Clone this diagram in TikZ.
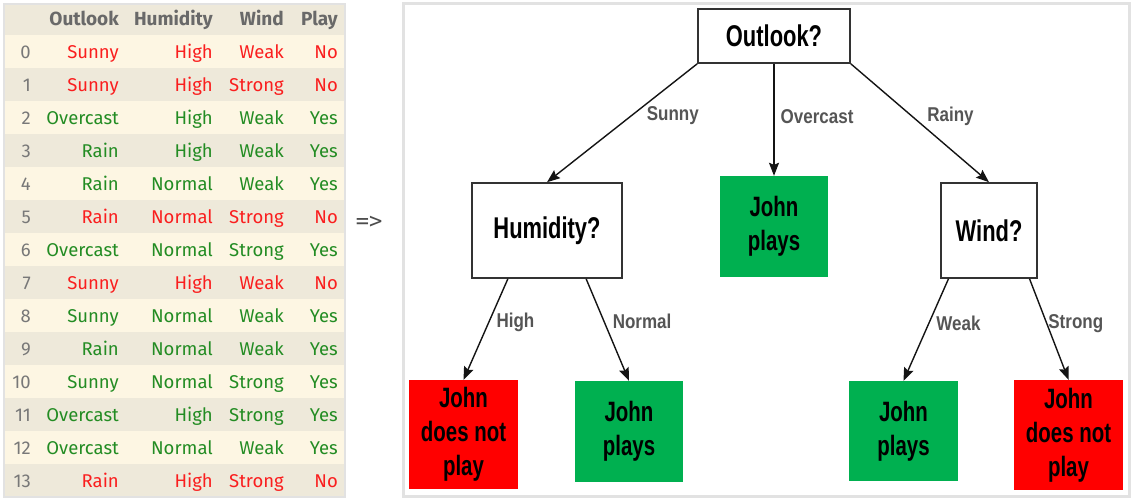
\documentclass[tikz,border=0pt]{standalone}
\usepackage{fontspec}
\usepackage{tikz}
\usetikzlibrary{positioning,arrows.meta}
\newfontfamily\tabfont{Fira Sans}
\newfontfamily\treefont[FakeStretch=0.73]{Liberation Sans}
\newfontfamily\lblfont[FakeStretch=0.85]{Liberation Sans}
\newfontfamily\arrfont{DejaVu Sans Mono}
\definecolor{rowA}{RGB}{253,246,227}
\definecolor{rowB}{RGB}{238,233,218}
\definecolor{panelbdr}{RGB}{226,226,226}
\definecolor{nored}{RGB}{250,30,30}
\definecolor{yesgreen}{RGB}{35,140,35}
\definecolor{idxgray}{RGB}{120,120,120}
\definecolor{hdrgray}{RGB}{105,105,105}
\definecolor{leafgreen}{RGB}{0,176,80}
\definecolor{leafred}{RGB}{255,0,0}
\definecolor{edgegray}{RGB}{85,85,85}
\definecolor{arrcol}{RGB}{20,20,20}

\begin{document}
\begin{tikzpicture}[x=1pt,y=-1pt]
\tikzset{
  TB/.style={anchor=base east,inner sep=0pt,font=\tabfont\fontsize{18.5}{20}\selectfont},
  HD/.style={TB,font=\tabfont\bfseries\fontsize{19}{20}\selectfont,text=hdrgray},
  QN/.style={draw=black!80,line width=1.6pt,fill=white,rectangle,inner sep=0pt,align=center,font=\treefont\bfseries\fontsize{30}{34}\selectfont},
  YS/.style={fill=leafgreen,rectangle,inner sep=0pt,align=center,font=\treefont\bfseries\fontsize{28}{34}\selectfont},
  NO/.style={YS,fill=leafred},
  FL/.style={-{Stealth[length=13pt,width=10pt,inset=2pt]},line width=1.4pt,arrcol},
  lb/.style={font=\lblfont\bfseries\fontsize{20}{22}\selectfont,text=edgegray,inner sep=0pt},
}
\useasboundingbox (0,0) rectangle (1132,499);
\fill[white] (0,0) rectangle (1132,499);

% data table
\fill[rowB] (4,4) rectangle (345,497);
\foreach \i in {0,2,...,12}
  \fill[rowA] (4,{35+33*\i}) rectangle (345,{68+33*\i});
\draw[panelbdr,line width=2pt] (4,4) rectangle (345,497);

\node[HD](hOut) at (119,25){Outlook};
\node[HD](hHum) at (213,25){Humidity};
\node[HD](hWnd) at (284,25){Wind};
\node[HD](hPly) at (338,25){Play};

\foreach \i/\o/\h/\w/\p/\c in {0/Sunny/High/Weak/No/nored,
    1/Sunny/High/Strong/No/nored, 2/Overcast/High/Weak/Yes/yesgreen,
    3/Rain/High/Weak/Yes/yesgreen, 4/Rain/Normal/Weak/Yes/yesgreen,
    5/Rain/Normal/Strong/No/nored, 6/Overcast/Normal/Strong/Yes/yesgreen,
    7/Sunny/High/Weak/No/nored, 8/Sunny/Normal/Weak/Yes/yesgreen,
    9/Rain/Normal/Weak/Yes/yesgreen, 10/Sunny/Normal/Strong/Yes/yesgreen,
    11/Overcast/High/Strong/Yes/yesgreen, 12/Overcast/Normal/Weak/Yes/yesgreen,
    13/Rain/High/Strong/No/nored}{
  \node[TB,text=idxgray](idx\i) at (31,{58+33*\i}){\i};
  \node[TB,text=\c](out\i) at (119,{58+33*\i}){\o};
  \node[TB,text=\c](hum\i) at (213,{58+33*\i}){\h};
  \node[TB,text=\c](wnd\i) at (284,{58+33*\i}){\w};
  \node[TB,text=\c](ply\i) at (338,{58+33*\i}){\p};
}

\node[font=\arrfont\fontsize{22}{24}\selectfont,text=black!70,inner sep=0pt](imp) at (369,222){=>};

% decision tree
\draw[panelbdr,line width=3pt,fill=white] (403,3) rectangle (1129,496);

\node[QN,minimum width=152pt,minimum height=54pt](outlook) at (774,36){Outlook?};
\node[QN,minimum width=150pt,minimum height=95pt](hum) at (547,230.5){Humidity?};
\node[YS,minimum width=108pt,minimum height=101pt](yes0) at (774,226.5){John\\plays};
\node[QN,minimum width=96pt,minimum height=95pt](wind) at (989,230.5){Wind?};

\node[NO,minimum width=109pt,minimum height=109pt](no1) at (463.5,434.5){John\\does not\\play};
\node[YS,minimum width=108pt,minimum height=101pt](yes1) at (629,431.5){John\\plays};
\node[YS,minimum width=109pt,minimum height=100pt](yes2) at (903.5,431){John\\plays};
\node[NO,minimum width=109pt,minimum height=110pt](no2) at (1068.5,435){John\\does not\\play};

\draw[FL](outlook.south west)--node[lb,pos=0.44,right=15pt]{Sunny}(hum.north);
\draw[FL](outlook.south)--node[lb,pos=0.47,right=6pt]{Overcast}(yes0.north);
\draw[FL](outlook.south east)--node[lb,pos=0.44,right=15pt]{Rainy}(wind.north);

\draw[FL](hum.231)--node[lb,pos=0.43,right=7pt]{High}(no1.north);
\draw[FL](hum.309)--node[lb,pos=0.42,right=8pt]{Normal}(yes1.north);

\draw[FL](wind.230)--node[lb,pos=0.44,right=7pt]{Weak}(yes2.north);
\draw[FL](wind.310)--node[lb,pos=0.44,right=1pt]{Strong}(no2.north);

\end{tikzpicture}
\end{document}
